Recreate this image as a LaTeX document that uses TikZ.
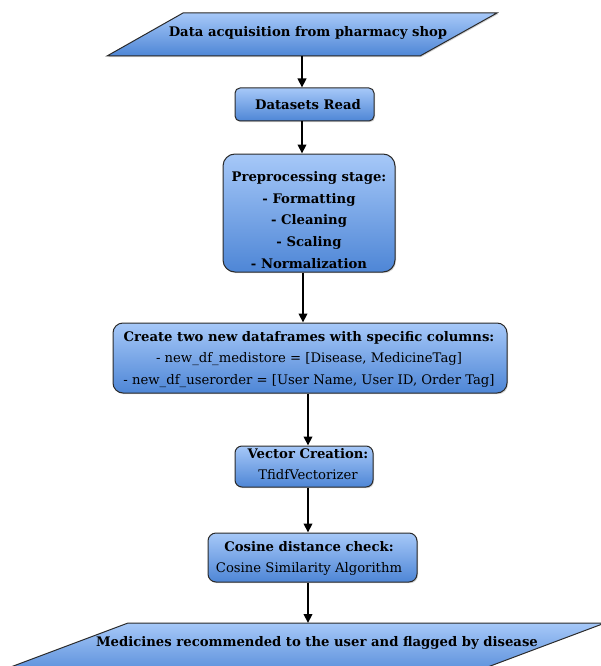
\documentclass[tikz,border=0pt]{standalone}
\usepackage{fontspec}
\setmainfont{DejaVu Serif}
\usetikzlibrary{arrows.meta,shadows}
\definecolor{topblue}{HTML}{A6C8F8}
\definecolor{botblue}{HTML}{4E86D6}
\definecolor{edge}{HTML}{2A2A2A}
\begin{document}
\begin{tikzpicture}[x=1pt,y=-1pt,
  boxfill/.style={draw=edge,line width=1pt,top color=topblue,bottom color=botblue},
  flowbox/.style={boxfill,rounded corners=5pt,inner sep=0pt,
     drop shadow={shadow xshift=1pt,shadow yshift=-1.2pt,opacity=0.35}},
  txt/.style={font=\fontsize{13.2}{21.8}\selectfont,align=center,inner sep=0pt,text=black},
  btxt/.style={txt,font=\fontsize{13.2}{21.8}\selectfont\bfseries},
  arr/.style={line width=2.6pt,-{Triangle[length=9pt,width=8.5pt]}}]
\useasboundingbox (0,0) rectangle (601,666);
% top parallelogram
\path[boxfill,drop shadow={shadow xshift=1pt,shadow yshift=-1.2pt,opacity=0.35}]
  (183,13) -- (497,13) -- (420,56) -- (107,56) -- cycle;
\node[btxt] (acq) at (308,33) {Data acquisition from pharmacy shop};
\coordinate (acqb) at (302,56);
% datasets read
\node[flowbox,minimum width=139pt,minimum height=33pt] (dat) at (304.5,104.5) {};
\node[btxt] (datt) at (308,104.5) {Datasets Read};
% preprocessing
\node[flowbox,rounded corners=12pt,minimum width=172pt,minimum height=118pt] (pre) at (309,213) {};
\node[btxt] (pret) at (309,220) {Preprocessing stage:\\- Formatting\\- Cleaning\\- Scaling\\- Normalization};
% create dataframes
\node[flowbox,rounded corners=10pt,minimum width=394pt,minimum height=70pt] (cre) at (310,358) {};
\node[txt] (cret) at (309,359.5) {\textbf{Create two new dataframes with specific columns:}\\- new\_df\_medistore = [Disease, MedicineTag]\\- new\_df\_userorder = [User Name, User ID, Order Tag]};
% vector creation
\node[flowbox,rounded corners=7pt,minimum width=138pt,minimum height=41pt] (vec) at (304,466.5) {};
\node[txt] (vect) at (308,464) {\textbf{Vector Creation:}\\TfidfVectorizer};
% cosine
\node[flowbox,rounded corners=8pt,minimum width=209pt,minimum height=49pt] (cos) at (312.5,557.5) {};
\node[txt] (cost) at (309,558.5) {\textbf{Cosine distance check:}\\Cosine Similarity Algorithm};
% bottom parallelogram
\path[boxfill] (128,623) -- (605,623) -- (453,680) -- (-24,680) -- cycle;
\node[btxt] (med) at (317,643) {Medicines recommended to the user and flagged by disease};
\coordinate (medt) at (308,623);
% arrows
\coordinate (xa) at (302,0);
\coordinate (xb) at (303,0);
\coordinate (xc) at (308,0);
\draw[arr] (acqb) -- (dat.north -| xa);
\draw[arr] (dat.south -| xa) -- (pre.north -| xa);
\draw[arr] (pre.south -| xb) -- (cre.north -| xb);
\draw[arr] (cre.south -| xc) -- (vec.north -| xc);
\draw[arr] (vec.south -| xc) -- (cos.north -| xc);
\draw[arr] (cos.south -| xc) -- (medt);
\end{tikzpicture}
\end{document}
